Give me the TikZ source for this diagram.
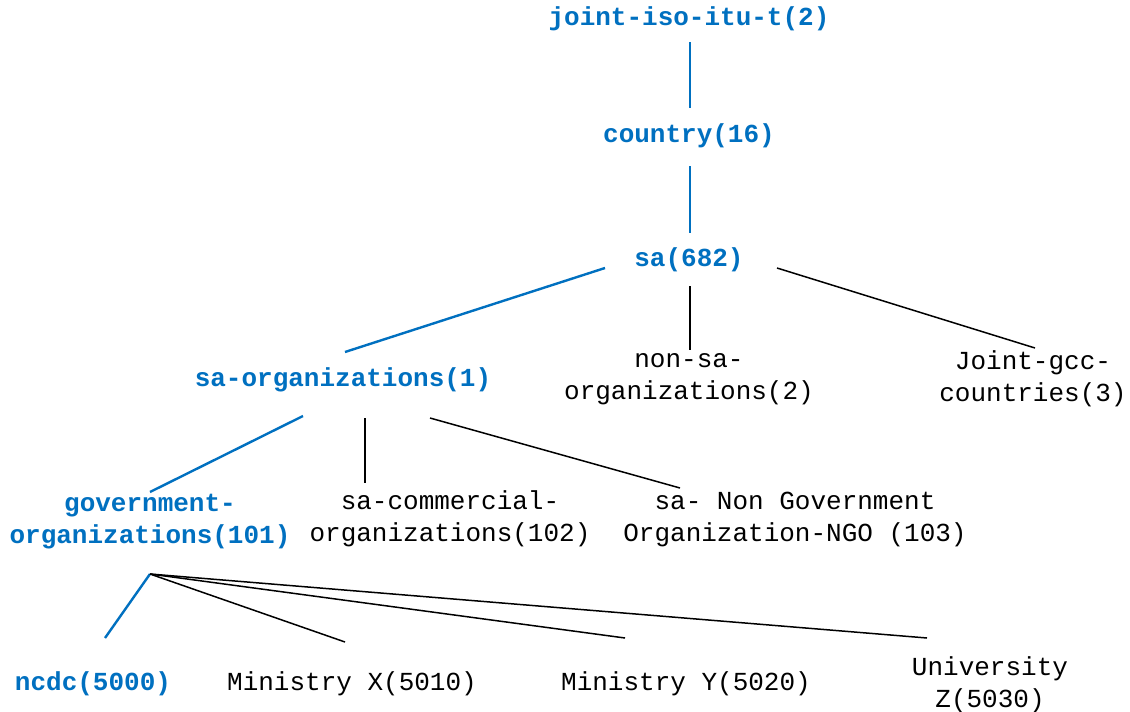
\documentclass[tikz,border=0pt]{standalone}
\usepackage{fontspec}
\setmonofont{Liberation Mono}
\definecolor{oidblue}{HTML}{0070C0}
\begin{document}
\begin{tikzpicture}[x=1pt,y=-1pt,
  lab/.style={font=\ttfamily\fontsize{26}{32}\selectfont, align=center, inner sep=0pt, text=black},
  hl/.style={lab, font=\ttfamily\bfseries\fontsize{26}{32}\selectfont, text=oidblue},
  bl/.style={draw=oidblue, line width=2.4pt},
  kl/.style={draw=black, line width=1.5pt}]
\useasboundingbox[fill=white] (0,0) rectangle (1130,712);
\node[hl] (jit) at (689,19) {joint-iso-itu-t(2)};
\node[hl] (cty) at (689,136) {country(16)};
\node[hl] (sa) at (689,260) {sa(682)};
\node[hl] (sao) at (343,380) {sa-organizations(1)};
\node[lab] (nsa) at (689,379) {non-sa-\\organizations(2)};
\node[lab] (gcc) at (1033,379) {Joint-gcc-\\countries(3)};
\node[hl] (gov) at (150,522) {government-\\organizations(101)};
\node[lab] (com) at (450,519) {sa-commercial-\\organizations(102)};
\node[lab] (ngo) at (795,519) {sa- Non Government\\Organization-NGO (103)};
\node[hl] (ncdc) at (93,684) {ncdc(5000)};
\node[lab] (mx) at (352,684) {Ministry X(5010)};
\node[lab] (my) at (686,684) {Ministry Y(5020)};
\node[lab] (uz) at (990,685) {University\\Z(5030)};
% connector end points
\coordinate (jitB) at (690,42);
\coordinate (ctyT) at (690,108);
\coordinate (ctyB) at (690,166);
\coordinate (saT) at (690,233);
\coordinate (saL) at (605,268);
\coordinate (saoT) at (345,352);
\coordinate (saM) at (690,286);
\coordinate (nsaT) at (690,350);
\coordinate (saR) at (777,268);
\coordinate (gccT) at (1035,348);
\coordinate (saoL) at (303,416);
\coordinate (govT) at (150,492);
\coordinate (saoM) at (365,418);
\coordinate (comT) at (365,483);
\coordinate (saoR) at (430,418);
\coordinate (ngoT) at (680,488);
\coordinate (govB) at (150,574);
\coordinate (ncdcT) at (105,638);
\coordinate (mxT) at (345,642);
\coordinate (myT) at (625,638);
\coordinate (uzT) at (927,638);
\draw[bl] (jitB) -- (ctyT);
\draw[bl] (ctyB) -- (saT);
\draw[bl] (saL) -- (saoT);
\draw[kl] (saM) -- (nsaT);
\draw[kl] (saR) -- (gccT);
\draw[bl] (saoL) -- (govT);
\draw[kl] (saoM) -- (comT);
\draw[kl] (saoR) -- (ngoT);
\draw[bl] (govB) -- (ncdcT);
\draw[kl] (govB) -- (mxT);
\draw[kl] (govB) -- (myT);
\draw[kl] (govB) -- (uzT);
\end{tikzpicture}
\end{document}
